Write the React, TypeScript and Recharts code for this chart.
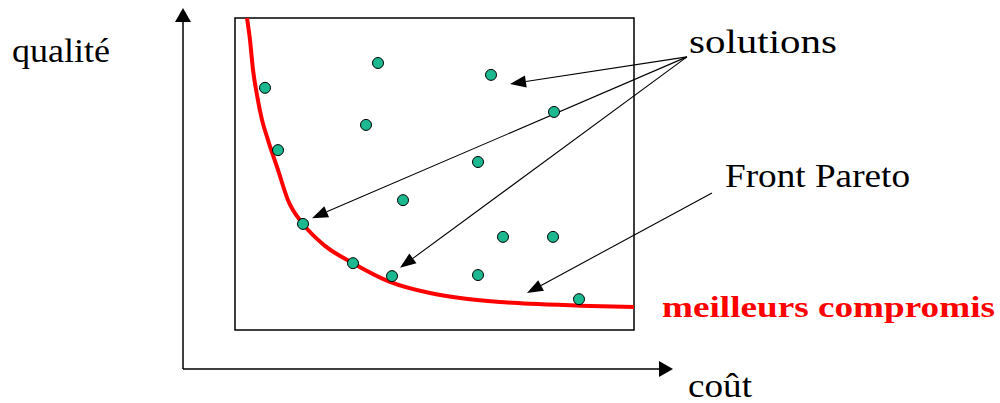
import React from 'react';
import {
  ComposedChart,
  XAxis,
  YAxis,
  Scatter,
  Line,
  ReferenceLine,
  ReferenceArea,
  Customized,
} from 'recharts';

// coût (x) / qualité (y), both on a 0..100 scale
const solutions = [
  { x: 16.4, y: 78.1 },
  { x: 39.0, y: 85.0 },
  { x: 61.6, y: 81.7 },
  { x: 74.2, y: 71.4 },
  { x: 36.6, y: 67.8 },
  { x: 19.0, y: 60.8 },
  { x: 59.0, y: 57.5 },
  { x: 44.0, y: 46.9 },
  { x: 24.0, y: 40.3 },
  { x: 64.0, y: 36.7 },
  { x: 74.0, y: 36.7 },
  { x: 34.0, y: 29.4 },
  { x: 41.8, y: 25.8 },
  { x: 59.0, y: 26.1 },
  { x: 79.2, y: 19.4 },
];

const paretoFront = [
  { x: 12.8, y: 97.5 },
  { x: 13.4, y: 91.4 },
  { x: 14.0, y: 83.1 },
  { x: 14.8, y: 76.1 },
  { x: 15.8, y: 69.2 },
  { x: 17.0, y: 63.6 },
  { x: 19.0, y: 55.3 },
  { x: 21.0, y: 46.9 },
  { x: 24.0, y: 40.3 },
  { x: 28.4, y: 34.2 },
  { x: 34.0, y: 29.4 },
  { x: 41.4, y: 24.2 },
  { x: 49.4, y: 21.1 },
  { x: 55.4, y: 19.7 },
  { x: 63.4, y: 18.6 },
  { x: 69.4, y: 18.1 },
  { x: 79.4, y: 17.6 },
  { x: 90.2, y: 17.2 },
];

const frame = { x1: 10.4, x2: 90.2, y1: 10.8, y2: 97.5 };

const axisArrows = [
  [{ x: 0, y: 0 }, { x: 0, y: 100.3 }],
  [{ x: 0, y: 0 }, { x: 98, y: 0 }],
];

const solutionArrows = [
  [{ x: 100.8, y: 86.7 }, { x: 65.4, y: 79.2 }],
  [{ x: 100.8, y: 86.7 }, { x: 25.8, y: 41.9 }],
  [{ x: 100.8, y: 86.7 }, { x: 43.4, y: 28.1 }],
];

const frontArrow = [{ x: 105.8, y: 48.9 }, { x: 68.8, y: 21.1 }];

const LABEL_Y = 'qualité';
const LABEL_X = 'coût';
const LABEL_SOLUTIONS = 'solutions';
const LABEL_FRONT = 'Front Pareto';
const LABEL_BEST = 'meilleurs compromis';

const makeArrow = (head: number, half: number, width: number) => (props: any) => {
  const { x1, y1, x2, y2 } = props;
  const dx = x2 - x1;
  const dy = y2 - y1;
  const len = Math.hypot(dx, dy) || 1;
  const ux = dx / len;
  const uy = dy / len;
  const bx = x2 - ux * head;
  const by = y2 - uy * head;
  const px = -uy;
  const py = ux;
  return (
    <g>
      <line x1={x1} y1={y1} x2={bx} y2={by} stroke="#000" strokeWidth={width} />
      <polygon
        points={`${x2},${y2} ${bx + px * half},${by + py * half} ${bx - px * half},${by - py * half}`}
        fill="#000"
      />
    </g>
  );
};

const axisArrowShape = makeArrow(14, 8, 1.5);
const noteArrowShape = makeArrow(16, 6, 1.1);

const dotShape = (props: any) => (
  <circle cx={props.cx} cy={props.cy} r={5.5} fill="#1cb88f" stroke="#000" strokeWidth={1} />
);

const serifStyle = { fontFamily: "'Liberation Serif', 'Times New Roman', Times, serif" };

const Texts = () => (
  <g style={serifStyle}>
    <text x={12} y={62} fontSize={33} fill="#000" textLength={98} lengthAdjust="spacingAndGlyphs" style={serifStyle}>
      {LABEL_Y}
    </text>
    <text x={689} y={53} fontSize={33} fill="#000" textLength={148} lengthAdjust="spacingAndGlyphs" style={serifStyle}>
      {LABEL_SOLUTIONS}
    </text>
    <text x={725} y={187} fontSize={33} fill="#000" textLength={185} lengthAdjust="spacingAndGlyphs" style={serifStyle}>
      {LABEL_FRONT}
    </text>
    <text x={688} y={397} fontSize={33} fill="#000" textLength={64} lengthAdjust="spacingAndGlyphs" style={serifStyle}>
      {LABEL_X}
    </text>
    <text
      x={662}
      y={317}
      fontSize={29}
      fontWeight="bold"
      fill="#ff0000"
      textLength={333}
      lengthAdjust="spacingAndGlyphs"
      style={serifStyle}
    >
      {LABEL_BEST}
    </text>
  </g>
);

export default function App() {
  return (
    <div style={{ position: 'absolute', left: 0, top: 0, width: 1000, height: 403, background: '#fff' }}>
      <ComposedChart
        width={1000}
        height={403}
        margin={{ top: 9, right: 317, bottom: 34, left: 183 }}
      >
        <XAxis type="number" dataKey="x" domain={[0, 100]} hide allowDataOverflow />
        <YAxis type="number" dataKey="y" domain={[0, 100]} hide allowDataOverflow />
        {axisArrows.map((seg, i) => (
          <ReferenceLine key={`ax${i}`} segment={seg} ifOverflow="visible" shape={axisArrowShape} />
        ))}
        <ReferenceArea
          x1={frame.x1}
          x2={frame.x2}
          y1={frame.y1}
          y2={frame.y2}
          fill="none"
          stroke="#000"
          strokeWidth={1.5}
          ifOverflow="visible"
        />
        <Line
          data={paretoFront}
          dataKey="y"
          type="monotone"
          stroke="#ff0000"
          strokeWidth={4}
          dot={false}
          activeDot={false}
          isAnimationActive={false}
        />
        <Scatter data={solutions} dataKey="y" shape={dotShape} isAnimationActive={false} />
        {solutionArrows.map((seg, i) => (
          <ReferenceLine key={`s${i}`} segment={seg} ifOverflow="visible" shape={noteArrowShape} />
        ))}
        <ReferenceLine segment={frontArrow} ifOverflow="visible" shape={noteArrowShape} />
        <Customized component={Texts} />
      </ComposedChart>
    </div>
  );
}
